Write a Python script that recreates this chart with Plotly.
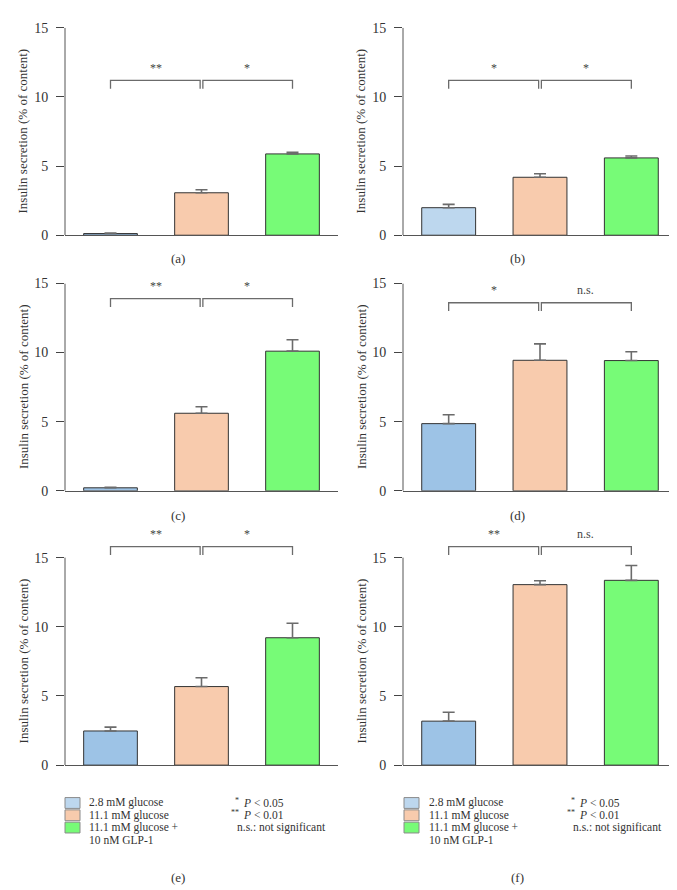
import plotly.graph_objects as go

# ---------------- data ----------------
panel_labels = ["(a)", "(b)", "(c)", "(d)", "(e)", "(f)"]
conditions = ["2.8 mM glucose", "11.1 mM glucose", "11.1 mM glucose +", "10 nM GLP-1"]
x_pos = [0, 1, 2]

mean_a = [0.12, 3.07, 5.88]
err_a = [0.04, 0.22, 0.11]
mean_b = [1.99, 4.19, 5.59]
err_b = [0.24, 0.26, 0.14]
mean_c = [0.22, 5.61, 10.10]
err_c = [0.03, 0.47, 0.83]
mean_d = [4.86, 9.44, 9.42]
err_d = [0.64, 1.19, 0.64]
mean_e = [2.47, 5.68, 9.21]
err_e = [0.28, 0.64, 1.05]
mean_f = [3.18, 13.05, 13.36]
err_f = [0.64, 0.28, 1.07]

sig_left = ["**", "*", "**", "*", "**", "**"]
sig_right = ["*", "*", "*", "n.s.", "*", "n.s."]
bracket_y = [11.2, 11.2, 13.9, 13.6, 15.8, 15.8]
y_ticks = [0, 5, 10, 15]
p_stars = ["*", "**", ""]
p_legend = ["<i>P</i> &lt; 0.05", "<i>P</i> &lt; 0.01", "n.s.: not significant"]

means = [mean_a, mean_b, mean_c, mean_d, mean_e, mean_f]
errs = [err_a, err_b, err_c, err_d, err_e, err_f]

# ---------------- layout helpers ----------------
W, H = 677, 890
FONT = "Liberation Serif"
TXT = "#333333"
blue = "#9dc3e6"
blue_light = "#bdd7ee"
peach = "#f8cbad"
green = "#77fb77"

def px(x):
    return x / W

def py(y):
    return 1 - y / H

x_dom = [[px(57), px(330)], [px(395), px(669)]]
# (zero pixel, top pixel, y max of range)
rows = [(224, 13, 15.0), (484, 273, 15.0), (763, 521, 17.2)]

fig = go.Figure()
shapes = []
annotations = []
layout = {}

for i in range(6):
    r, c = divmod(i, 2)
    n = "" if i == 0 else str(i + 1)
    xa, ya = "x" + n, "y" + n
    zero_px, top_px, ymax = rows[r]
    col_blue = blue_light if i == 1 else blue
    fig.add_trace(go.Bar(
        x=x_pos, y=means[i], xaxis=xa, yaxis=ya,
        width=0.59,
        marker=dict(color=[col_blue, peach, green], line=dict(color="#333333", width=1)),
        error_y=dict(type="data", symmetric=False, array=errs[i], arrayminus=[0, 0, 0],
                     color="#6b6b6b", thickness=1.6, width=6),
        hoverinfo="skip",
    ))
    layout["xaxis" + n] = dict(
        domain=x_dom[c], range=[-0.5, 2.5], anchor=ya,
        showline=True, linecolor="#555555", linewidth=1,
        showticklabels=False, ticks="", showgrid=False, zeroline=False,
    )
    layout["yaxis" + n] = dict(
        domain=[py(zero_px), py(top_px)], range=[0, ymax], anchor=xa,
        showline=False, showgrid=False, zeroline=False,
        tickvals=y_ticks, ticks="outside", ticklen=8, tickcolor="#444444", tickwidth=1,
        ticklabelstandoff=5,
        tickfont=dict(family=FONT, size=14, color=TXT),
    )
    # y axis line only up to 15
    shapes.append(dict(type="line", xref=xa + " domain", yref=ya, x0=0, x1=0, y0=0, y1=15,
                       line=dict(color="#555555", width=1)))
    # significance brackets
    yb = bracket_y[i]
    drop = 0.6
    brk = dict(color="#6b6b6b", width=1.3)
    shapes.append(dict(type="path", xref=xa, yref=ya,
                       path=f"M 0,{yb - drop} L 0,{yb} L 0.985,{yb} L 0.985,{yb - drop}",
                       line=brk))
    shapes.append(dict(type="path", xref=xa, yref=ya,
                       path=f"M 1.015,{yb - drop} L 1.015,{yb} L 2,{yb} L 2,{yb - drop}",
                       line=brk))
    for xs, txt in [(0.5, sig_left[i]), (1.5, sig_right[i])]:
        annotations.append(dict(x=xs, y=yb + 0.25, xref=xa, yref=ya, text=txt, showarrow=False,
                                yanchor="bottom", font=dict(family=FONT, size=12, color="#444444")))
    # y axis title
    annotations.append(dict(x=px(15 + c * 338), y=7.5, xref="paper", yref=ya,
                            text="Insulin secretion (% of content)", textangle=-90,
                            showarrow=False, xanchor="center", yanchor="middle",
                            font=dict(family=FONT, size=13, color=TXT)))
    # panel label
    label_y = [248, 509, 877][r]
    annotations.append(dict(x=px(170 + c * 339), y=py(label_y), xref="paper", yref="paper",
                            text=panel_labels[i], showarrow=False, xanchor="center", yanchor="middle",
                            font=dict(family=FONT, size=13, color=TXT)))

# ---------------- legends ----------------
row_y = [801.5, 814, 826.5, 839]
for c, (bx, tx, px2) in enumerate([(57, 79, 233), (396, 419, 569)]):
    fills = [blue_light, peach, green]
    for k in range(3):
        shapes.append(dict(type="rect", xref="paper", yref="paper",
                           x0=px(bx), x1=px(bx + 15), y0=py(row_y[k] + 5.5), y1=py(row_y[k] - 5.5),
                           fillcolor=fills[k], line=dict(color="#8a8a8a", width=1)))
    for k in range(4):
        annotations.append(dict(x=px(tx), y=py(row_y[k]), xref="paper", yref="paper",
                                text=conditions[k], showarrow=False, xanchor="left", yanchor="middle",
                                font=dict(family=FONT, size=11.5, color=TXT)))
    for k in range(3):
        xk = px2 if k < 2 else px2 - 6
        annotations.append(dict(x=px(xk), y=py(row_y[k]), xref="paper", yref="paper",
                                text=p_legend[k], showarrow=False, xanchor="left", yanchor="middle",
                                font=dict(family=FONT, size=11.5, color=TXT)))
        if p_stars[k]:
            annotations.append(dict(x=px(px2 - 0.5), y=py(row_y[k] - 3), xref="paper", yref="paper",
                                    text=p_stars[k], showarrow=False, xanchor="right", yanchor="middle",
                                    font=dict(family=FONT, size=8, color=TXT)))

fig.update_layout(
    width=W, height=H,
    margin=dict(l=0, r=0, t=0, b=0),
    paper_bgcolor="white", plot_bgcolor="white",
    showlegend=False,
    shapes=shapes, annotations=annotations,
    **layout,
)

fig.write_html("out.html")
